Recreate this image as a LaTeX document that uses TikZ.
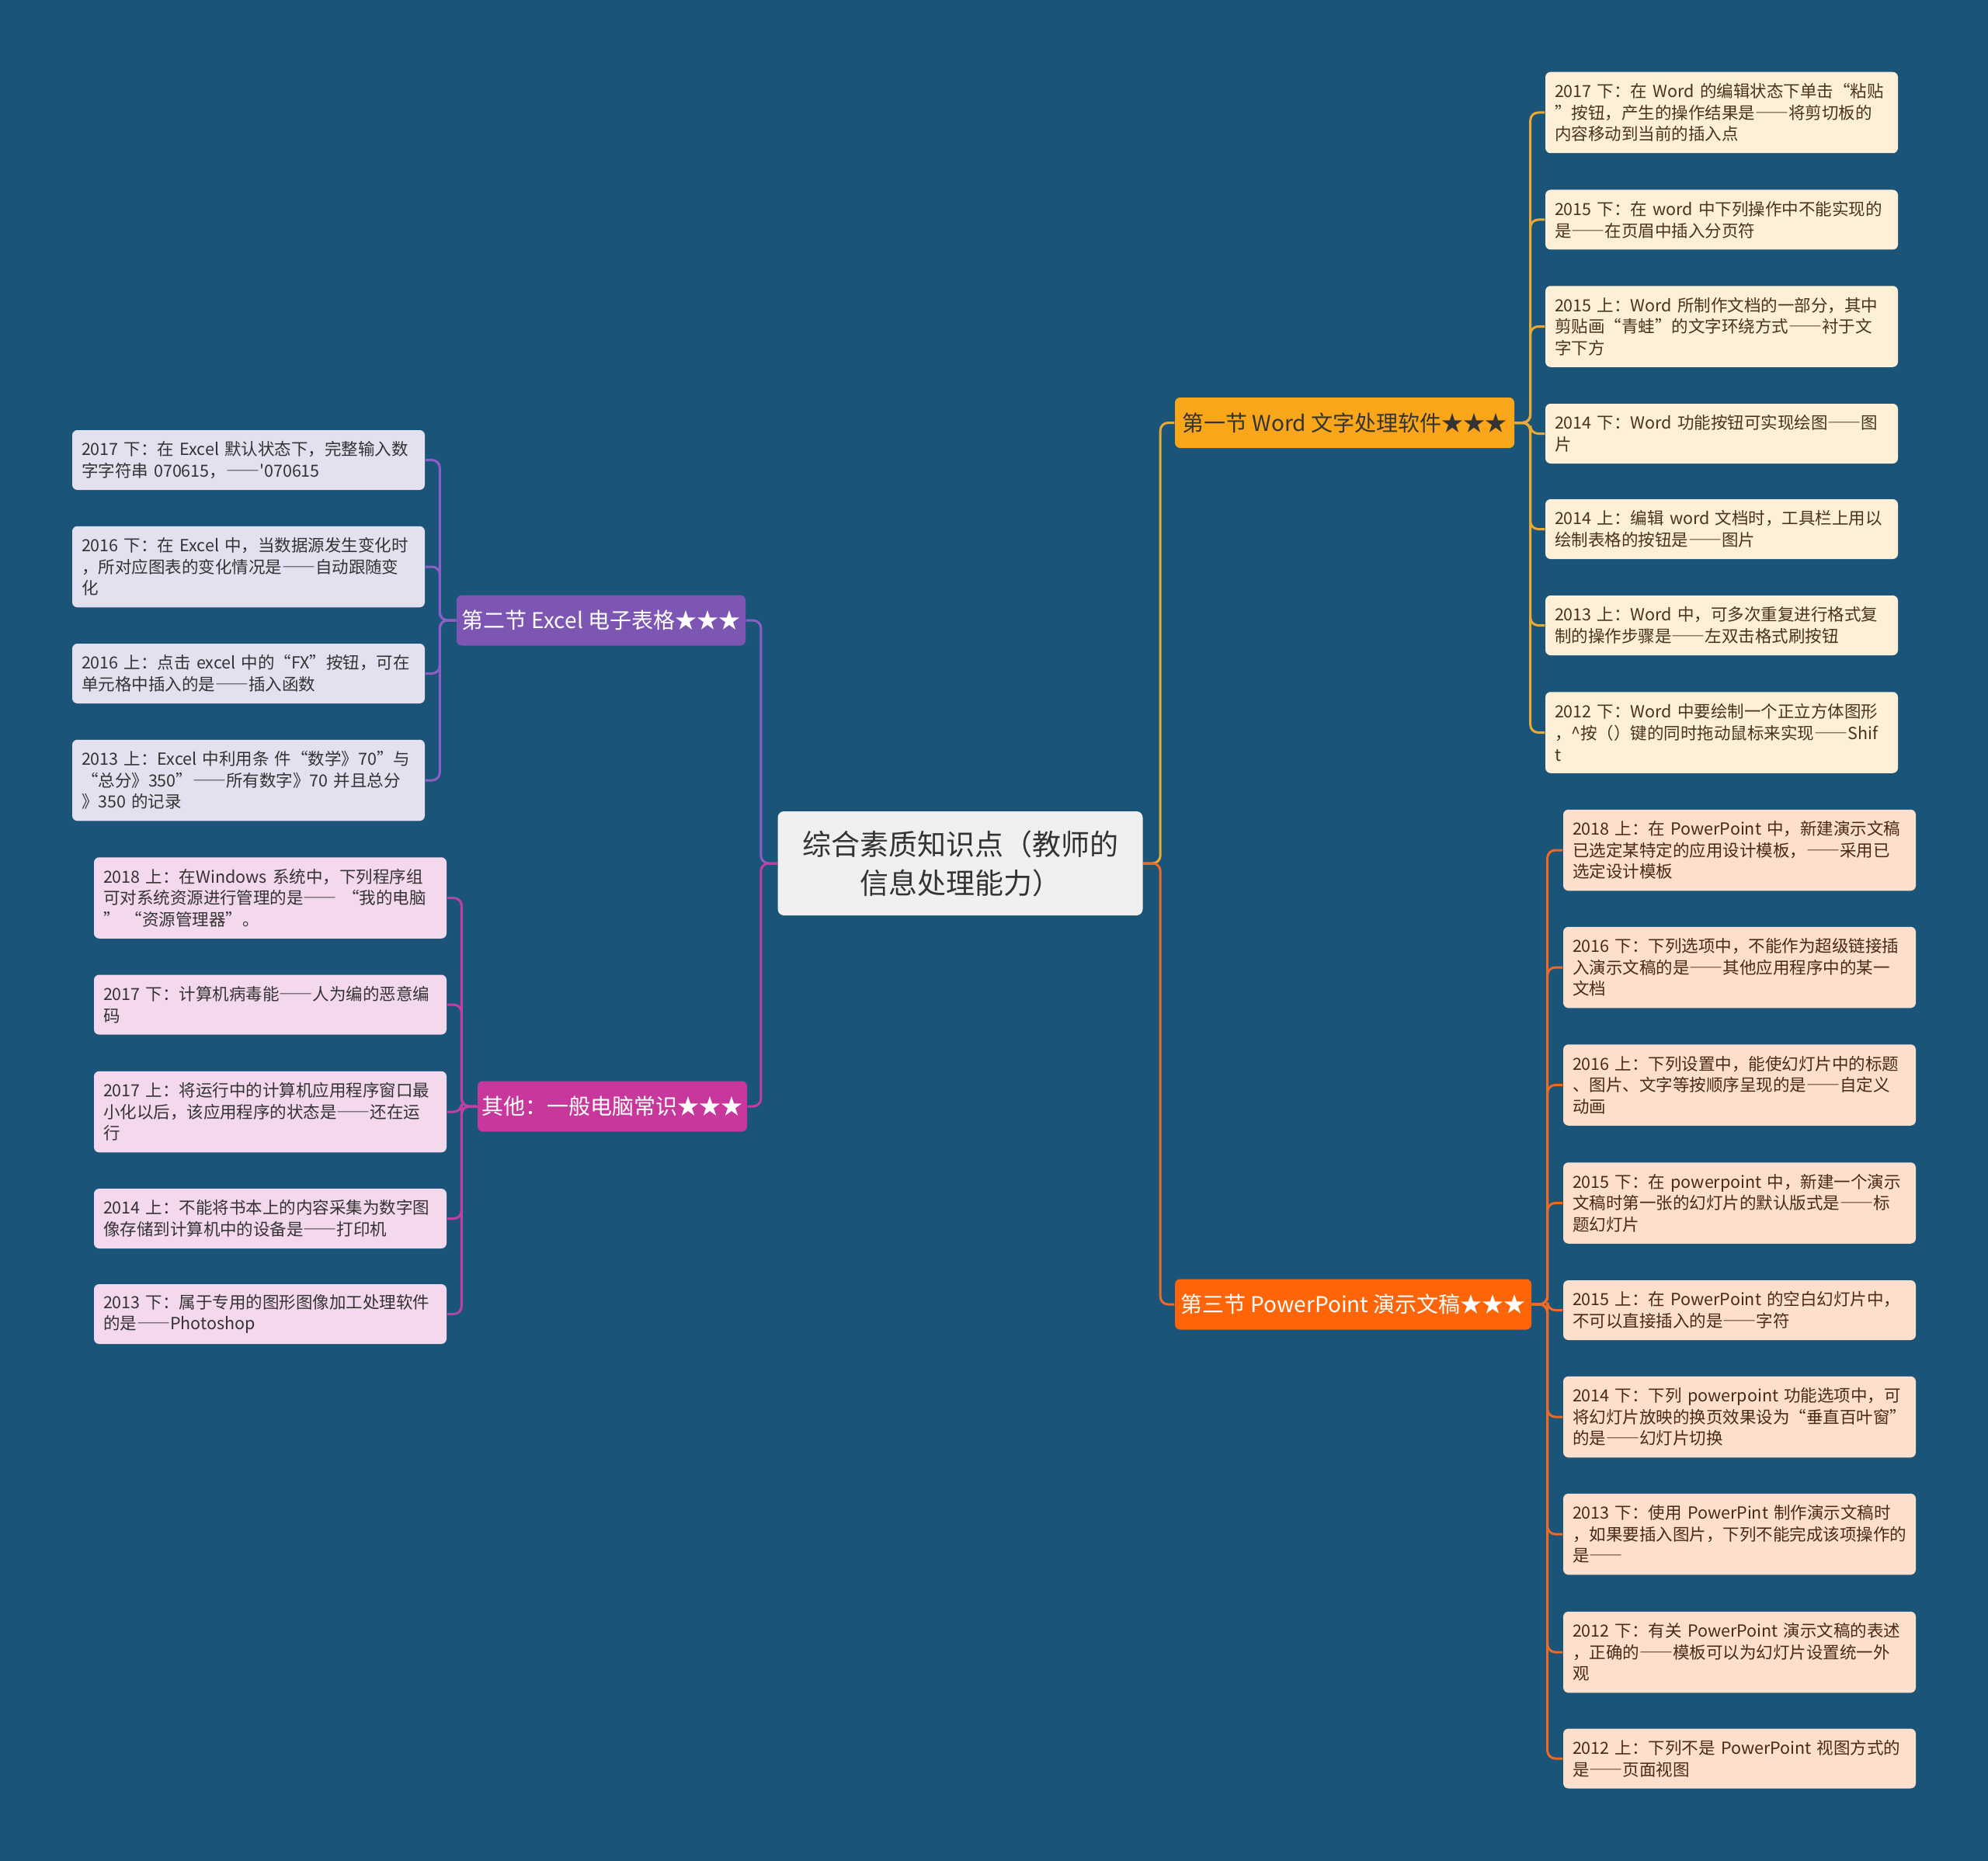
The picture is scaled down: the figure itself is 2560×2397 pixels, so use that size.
\documentclass[tikz,border=0pt]{standalone}
\usepackage{fontspec}
\setmainfont{Noto Sans CJK SC}[Ligatures=TeXOff]
\newcommand\zdash{{\addfontfeature{RawFeature=+fwid}——}}
\definecolor{bgc}{HTML}{1A5478}
\definecolor{cfill}{HTML}{F0F0F0}
\definecolor{ctext}{HTML}{333333}
\definecolor{wfill}{HTML}{FAA61A}
\definecolor{wleaf}{HTML}{FEF0D7}
\definecolor{wline}{HTML}{E9A932}
\definecolor{wtext}{HTML}{47341A}
\definecolor{pfill}{HTML}{FD6508}
\definecolor{pleaf}{HTML}{FCDFCD}
\definecolor{pline}{HTML}{EE6A24}
\definecolor{ptext}{HTML}{4A2A14}
\definecolor{efill}{HTML}{7D56B3}
\definecolor{eleaf}{HTML}{E5E0F0}
\definecolor{eline}{HTML}{8B5FC4}
\definecolor{ofill}{HTML}{C8389C}
\definecolor{oleaf}{HTML}{F4D8ED}
\definecolor{oline}{HTML}{C43DA3}
\begin{document}
\begin{tikzpicture}[x=0.3pt,y=-0.3pt,
  centerbox/.style={rectangle, rounded corners=2.4pt, fill=cfill, text=ctext, minimum width=141pt, minimum height=40.2pt, align=center, inner sep=0pt, font=\fontsize{11.1pt}{15pt}\selectfont},
  branchbox/.style={rectangle, rounded corners=2pt, minimum height=19.5pt, inner xsep=0pt, inner ysep=0pt, font=\fontsize{8.4pt}{10pt}\selectfont},
  leafbox/.style={rectangle, rounded corners=2pt, text width=129pt, inner xsep=3.6pt, inner ysep=0pt, align=left, font=\fontsize{6.45pt}{8.3pt}\selectfont},
  htwo/.style={minimum height=23.1pt},
  hthree/.style={minimum height=31.35pt},
  wleafbox/.style={leafbox, fill=wleaf, text=wtext},
  pleafbox/.style={leafbox, fill=pleaf, text=ptext},
  eleafbox/.style={leafbox, fill=eleaf, text=ctext},
  oleafbox/.style={leafbox, fill=oleaf, text=ctext},
  conn/.style={line width=0.9pt, rounded corners=3pt},
  wl/.style={conn, draw=wline},
  pl/.style={conn, draw=pline},
  el/.style={conn, draw=eline},
  ol/.style={conn, draw=oline}
]
\fill[bgc] (0,0) rectangle (2560,2397);
\useasboundingbox (0,0) rectangle (2560,2397);

% center
\node[centerbox] (c) at (1236.5,1112) {综合素质知识点（教师的\\信息处理能力）};

% branches
\node[branchbox, fill=wfill, text=ctext, minimum width=131.1pt] (b1) at (1731.5,544.5) {第一节~Word~文字处理软件★★★};
\node[branchbox, fill=efill, text=white, minimum width=111.6pt] (b2) at (774,799) {第二节~Excel~电子表格★★★};
\node[branchbox, fill=pfill, text=white, minimum width=137.7pt] (b3) at (1742.5,1680) {第三节~PowerPoint~演示文稿★★★};
\node[branchbox, fill=ofill, text=white, minimum width=104.1pt] (b4) at (788.5,1425) {其他：一般电脑常识★★★};

% Word leaves
\node[wleafbox, hthree] (w1) at (2217,145) {2017~下：在~Word~的编辑状态下单击“粘贴\\”按钮，产生的操作结果是\zdash{}将剪切板的\\内容移动到当前的插入点};
\node[wleafbox, htwo] (w2) at (2217,283) {2015~下：在~word~中下列操作中不能实现的\\是\zdash{}在页眉中插入分页符};
\node[wleafbox, hthree] (w3) at (2217,420.5) {2015~上：Word~所制作文档的一部分，其中\\剪贴画“青蛙”的文字环绕方式\zdash{}衬于文\\字下方};
\node[wleafbox, htwo] (w4) at (2217,558.5) {2014~下：Word~功能按钮可实现绘图\zdash{}图\\片};
\node[wleafbox, htwo] (w5) at (2217,681.5) {2014~上：编辑~word~文档时，工具栏上用以\\绘制表格的按钮是\zdash{}图片};
\node[wleafbox, htwo] (w6) at (2217,805.5) {2013~上：Word~中，可多次重复进行格式复\\制的操作步骤是\zdash{}左双击格式刷按钮};
\node[wleafbox, hthree] (w7) at (2217,943.5) {2012~下：Word~中要绘制一个正立方体图形\\，\textasciicircum 按（）键的同时拖动鼠标来实现\zdash{}Shif\\t};

% PowerPoint leaves
\node[pleafbox, hthree] (p1) at (2240,1095) {2018~上：在~PowerPoint~中，新建演示文稿\\已选定某特定的应用设计模板，\zdash{}采用已\\选定设计模板};
\node[pleafbox, hthree] (p2) at (2240,1246) {2016~下：下列选项中，不能作为超级链接插\\入演示文稿的是\zdash{}其他应用程序中的某一\\文档};
\node[pleafbox, hthree] (p3) at (2240,1397.5) {2016~上：下列设置中，能使幻灯片中的标题\\、图片、文字等按顺序呈现的是\zdash{}自定义\\动画};
\node[pleafbox, hthree] (p4) at (2240,1549.5) {2015~下：在~powerpoint~中，新建一个演示\\文稿时第一张的幻灯片的默认版式是\zdash{}标\\题幻灯片};
\node[pleafbox, htwo] (p5) at (2240,1687.5) {2015~上：在~PowerPoint~的空白幻灯片中，\\不可以直接插入的是\zdash{}字符};
\node[pleafbox, hthree] (p6) at (2240,1825) {2014~下：下列~powerpoint~功能选项中，可\\将幻灯片放映的换页效果设为“垂直百叶窗”\\的是\zdash{}幻灯片切换};
\node[pleafbox, hthree] (p7) at (2240,1976) {2013~下：使用~PowerPint~制作演示文稿时\\，如果要插入图片，下列不能完成该项操作的\\是\zdash{}};
\node[pleafbox, hthree] (p8) at (2240,2128) {2012~下：有关~PowerPoint~演示文稿的表述\\，正确的\zdash{}模板可以为幻灯片设置统一外\\观};
\node[pleafbox, htwo] (p9) at (2240,2265) {2012~上：下列不是~PowerPoint~视图方式的\\是\zdash{}页面视图};

% Excel leaves
\node[eleafbox, htwo] (e1) at (320,592.5) {2017~下：在~Excel~默认状态下，完整输入数\\字字符串~070615，\zdash{}'070615};
\node[eleafbox, hthree] (e2) at (320,730) {2016~下：在~Excel~中，当数据源发生变化时\\，所对应图表的变化情况是\zdash{}自动跟随变\\化};
\node[eleafbox, htwo] (e3) at (320,867.5) {2016~上：点击~excel~中的“FX”按钮，可在\\单元格中插入的是\zdash{}插入函数};
\node[eleafbox, hthree] (e4) at (320,1005) {2013~上：Excel~中利用条~件“数学》70”与\\“总分》350”\zdash{}所有数字》70~并且总分\\》350~的记录};

% Other leaves
\node[oleafbox, hthree] (o1) at (348,1156.5) {2018~上：在Windows~系统中，下列程序组\\可对系统资源进行管理的是\zdash{}~“我的电脑\\”~“资源管理器”。};
\node[oleafbox, htwo] (o2) at (348,1294) {2017~下：计算机病毒能\zdash{}人为编的恶意编\\码};
\node[oleafbox, hthree] (o3) at (348,1432) {2017~上：将运行中的计算机应用程序窗口最\\小化以后，该应用程序的状态是\zdash{}还在运\\行};
\node[oleafbox, htwo] (o4) at (348,1569.5) {2014~上：不能将书本上的内容采集为数字图\\像存储到计算机中的设备是\zdash{}打印机};
\node[oleafbox, htwo] (o5) at (348,1692.5) {2013~下：属于专用的图形图像加工处理软件\\的是\zdash{}Photoshop};

% connectors: center to branches
\draw[wl] (c.east) -- ++(22,0) |- (b1.west);
\draw[pl] (c.east) -- ++(22,0) |- (b3.west);
\draw[el] (c.west) -- ++(-21,0) |- (b2.east);
\draw[ol] (c.west) -- ++(-21,0) |- (b4.east);

% connectors: branches to leaves
\foreach \i in {1,...,7} \draw[wl] (b1.east) -- ++(20,0) |- (w\i.west);
\foreach \i in {1,...,9} \draw[pl] (b3.east) -- ++(20,0) |- (p\i.west);
\foreach \i in {1,...,4} \draw[el] (b2.west) -- ++(-21,0) |- (e\i.east);
\foreach \i in {1,...,5} \draw[ol] (b4.west) -- ++(-20,0) |- (o\i.east);
\end{tikzpicture}
\end{document}
